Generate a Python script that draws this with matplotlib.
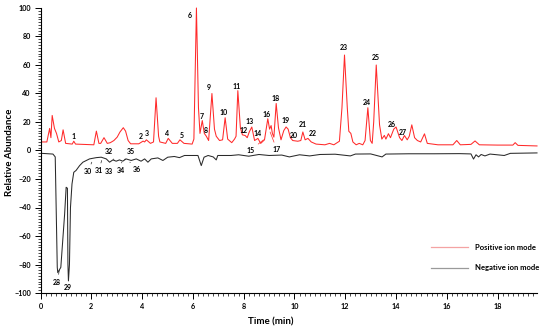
import matplotlib
matplotlib.use("Agg")
import matplotlib.pyplot as plt
from matplotlib.lines import Line2D
from matplotlib.ticker import MultipleLocator

# ---- data ----
pos_time = [0.05, 0.25, 0.36, 0.41, 0.46, 0.55, 0.63, 0.72, 0.82, 0.89, 0.99, 1.25, 1.31, 1.38,
            2.1, 2.2, 2.3, 2.37, 2.5, 2.63, 2.75, 2.89, 3.02, 3.13, 3.26, 3.35, 3.45, 3.55, 3.87,
            4.04, 4.1, 4.17, 4.33, 4.45, 4.55, 4.65, 4.7, 4.93, 5.03, 5.19, 5.39, 5.49, 5.65, 5.97,
            6.04, 6.14, 6.22, 6.28, 6.37, 6.45, 6.53, 6.62, 6.75, 6.85, 6.92, 7.05, 7.17, 7.27,
            7.37, 7.53, 7.64, 7.70, 7.77, 7.87, 7.95, 8.06, 8.14, 8.22, 8.32, 8.43, 8.56, 8.67,
            8.82, 8.95, 9.02, 9.08, 9.13, 9.19, 9.28, 9.37, 9.47, 9.58, 9.67, 9.75, 9.84, 9.93,
            10.13, 10.25, 10.33, 10.42, 10.53, 10.66, 10.85, 11.2, 11.38, 11.55, 11.77, 11.87,
            11.97, 12.08, 12.14, 12.22, 12.3, 12.43, 12.55, 12.69, 12.78, 12.89, 12.99, 13.06,
            13.12, 13.22, 13.35, 13.44, 13.54, 13.6, 13.7, 13.78, 13.91, 14.0, 14.14, 14.23,
            14.33, 14.44, 14.52, 14.62, 14.73, 14.84, 14.97, 15.12, 15.23, 15.65, 16.24, 16.39,
            16.53, 16.95, 17.11, 17.28, 18.0, 18.6, 18.69, 18.8, 19.55]
pos_abund = [6, 6, 15.5, 9, 24.6, 15.5, 12, 6, 7, 14.5, 5, 4.5, 6.5, 4.5,
             4, 13.6, 5, 5, 9, 5, 5.5, 7, 9.4, 13, 16, 13.6, 7, 4.7, 4.7,
             6.6, 6, 7.5, 5, 6, 37, 10, 6, 5, 8.5, 5, 5, 7.5, 5, 4.5,
             8, 100, 30, 12, 21, 12, 10, 7, 40, 15, 10, 7, 7.5, 23,
             8, 5.5, 8, 10, 42, 16, 11, 10.5, 9, 13, 16.5, 7, 8.5, 5,
             7.5, 22.3, 15, 17.5, 12, 9.4, 33, 16, 7.5, 14, 16.5, 15, 9, 7,
             6.5, 7, 13, 7.5, 8.5, 6, 4.5, 4, 5, 4, 6.5, 30,
             67, 30, 13.5, 12, 6, 4, 5, 4, 7, 30, 7, 5,
             20, 60, 18, 8, 10.6, 8, 11.8, 9, 15, 16.5, 9, 7,
             10.5, 7.5, 10, 18, 9, 7, 6, 11.7, 5, 4, 4, 7,
             4, 4.3, 6.7, 4, 3.8, 3.8, 5.5, 3.6, 3.2]

neg_time = [0.05, 0.49, 0.58, 0.66, 0.68, 0.8, 0.95, 1.01, 1.06, 1.08, 1.10, 1.14, 1.18, 1.24,
            1.31, 1.4, 1.54, 1.67, 1.93, 2.2, 2.39, 2.59, 2.72, 2.85, 2.98, 3.11, 3.24, 3.37,
            3.57, 3.77, 3.96, 4.1, 4.23, 4.36, 4.62, 4.82, 5.01, 5.27, 5.47, 5.67, 6.2, 6.33,
            6.44, 6.6, 6.8, 6.92, 6.98, 7.5, 7.8, 8.2, 8.6, 9.0, 9.5, 9.8, 10.2, 10.6, 11.0,
            11.6, 12.2, 12.4, 13.0, 13.45, 13.6, 14.5, 15.5, 16.5, 16.95, 17.05, 17.15, 17.25,
            17.35, 17.5, 17.7, 18.26, 18.5, 19.55]
neg_abund = [-2, -2.5, -4.5, -82, -85.7, -82, -44.6, -25.8, -26.5, -80, -91.5, -80, -40, -23.5,
             -15.3, -14, -10.6, -8.2, -5.9, -5, -4.7, -5.9, -8.2, -6.6, -7.5, -6.6, -7.5, -5.9,
             -7, -5.9, -7.5, -5.9, -8.2, -5.9, -5.2, -7, -4.7, -4.2, -5, -3.5, -3.5, -10.6,
             -4.7, -3.5, -4.5, -6.6, -3.5, -3.5, -3, -4, -2.8, -3.5, -3.2, -4.5, -3, -3.8, -2.8,
             -2.6, -3.8, -2.5, -2.4, -4.5, -2.5, -2.3, -2.3, -2.2, -2.4, -6, -3, -4.5,
             -2.8, -3.8, -2.5, -3.5, -2, -1.7]

# peak labels (text, x, y)
pos_labels = ["1", "2", "3", "4", "5", "6", "7", "8", "9", "10", "11", "12", "13", "14",
              "16", "18", "19", "20", "21", "22", "23", "24", "25", "26", "27"]
pos_label_x = [1.3, 3.93, 4.17, 4.98, 5.57, 5.86, 6.36, 6.52, 6.61, 7.21, 7.73, 8.0, 8.23, 8.56,
               8.91, 9.24, 9.65, 9.96, 10.31, 10.74, 11.93, 12.85, 13.19, 13.84, 14.27]
pos_label_y = [9.9, 9.9, 12, 12, 10.6, 95, 24, 14, 44, 26.8, 45, 14, 20.4, 12,
               25.4, 36.4, 21, 10.6, 18.3, 12, 72, 34, 65.5, 18.3, 12.9]

# labels with leader lines (text, text x, text y, target x, target y)
lead_labels = ["15", "17", "28", "30", "31", "32", "34", "35", "36"]
lead_tx = [8.26, 9.31, 0.66, 1.87, 2.29, 2.71, 3.17, 3.54, 3.8]
lead_ty = [0.0, 0.5, -92.3, -14.8, -14.1, -0.7, -14.1, -0.7, -13.6]
lead_px = [8.78, 9.04, 0.74, 2.02, 2.41, 2.89, 3.2, 3.31, 3.52]
lead_py = [7.5, 13, -84, -8.2, -7.0, -6.5, -8.2, -6.5, -8.2]

plain_neg_labels = ["29", "33"]
plain_neg_x = [1.09, 2.71]
plain_neg_y = [-96.3, -14.6]

FONT = "Lato"
plt.rcParams["font.family"] = [FONT, "DejaVu Sans"]
plt.rcParams["font.weight"] = "bold"

fig = plt.figure(figsize=(5.5, 3.31), dpi=100)
ax = fig.add_axes([40.5 / 550, 38 / 331, 496.5 / 550, 285 / 331])

ax.plot(pos_time, pos_abund, color="#ff2a2a", lw=0.75, clip_on=False)
ax.plot(neg_time, neg_abund, color="#2a2a2a", lw=0.75, clip_on=False)

ax.set_xlim(0, 19.55)
ax.set_ylim(-100, 100)
for s in ["top", "right"]:
    ax.spines[s].set_visible(False)
for s in ["left", "bottom"]:
    ax.spines[s].set_linewidth(0.8)

ax.xaxis.set_major_locator(MultipleLocator(2))
ax.xaxis.set_minor_locator(MultipleLocator(0.2))
ax.yaxis.set_major_locator(MultipleLocator(20))
ax.yaxis.set_minor_locator(MultipleLocator(2))
ax.tick_params(which="major", direction="out", length=4, width=0.7, labelsize=5.2, pad=3)
ax.tick_params(which="minor", direction="out", length=2, width=0.5)
for lab in ax.get_xticklabels() + ax.get_yticklabels():
    lab.set_fontweight("bold")

fig.text(10 / 550, 1 - 152 / 331, "Relative Abundance", rotation=90, ha="center", va="center",
         fontsize=7, fontweight="bold")
fig.text(271 / 550, 1 - 322 / 331, "Time (min)", ha="center", va="center",
         fontsize=7, fontweight="bold")

for t, x, y in zip(pos_labels, pos_label_x, pos_label_y):
    ax.text(x, y, t, ha="center", va="center", fontsize=5, fontweight="bold")
for t, x, y in zip(plain_neg_labels, plain_neg_x, plain_neg_y):
    ax.text(x, y, t, ha="center", va="center", fontsize=5, fontweight="bold")
for t, tx, ty, px, py in zip(lead_labels, lead_tx, lead_ty, lead_px, lead_py):
    col = "#ff2a2a" if t in ("15", "17") else "#2a2a2a"
    ax.annotate(t, xy=(px, py), xytext=(tx, ty), ha="center", va="center", fontsize=5,
                fontweight="bold",
                arrowprops=dict(arrowstyle="-", lw=0.5, color=col, shrinkA=1, shrinkB=0))

handles = [Line2D([], [], color="#f4a3a3", lw=0.9), Line2D([], [], color="#9a9a9a", lw=0.9)]
leg = ax.legend(handles, ["Positive ion mode", "Negative ion mode"], loc="upper left",
                bbox_to_anchor=(431 / 550, 1 - 244 / 331), bbox_transform=fig.transFigure,
                frameon=False, fontsize=5.5, handlelength=4.9, handletextpad=0.9,
                labelspacing=1.75, borderpad=0, borderaxespad=0)
for txt in leg.get_texts():
    txt.set_fontweight("bold")

fig.savefig("out.png", dpi=100)
